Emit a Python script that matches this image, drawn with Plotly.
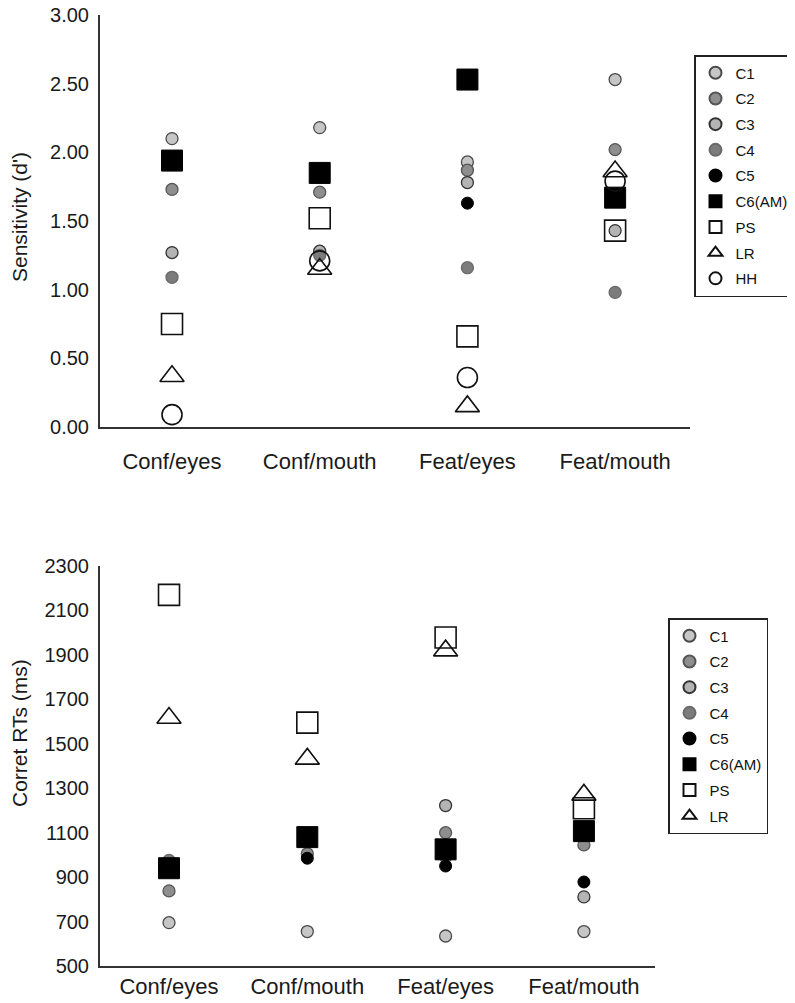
import plotly.graph_objects as go

categories = ["Conf/eyes", "Conf/mouth", "Feat/eyes", "Feat/mouth"]
series_names = ["C1", "C2", "C3", "C4", "C5", "C6(AM)", "PS", "LR", "HH"]

# Sensitivity (d')
d_C1 = [2.10, 2.18, 1.93, 2.53]
d_C2 = [1.73, 1.71, 1.87, 2.02]
d_C3 = [1.27, 1.28, 1.78, 1.43]
d_C4 = [1.09, 1.25, 1.16, 0.98]
d_C5 = [1.92, 1.84, 1.63, 1.66]
d_C6 = [1.94, 1.85, 2.53, 1.67]
d_PS = [0.75, 1.52, 0.66, 1.43]
d_LR = [0.37, 1.15, 0.15, 1.86]
d_HH = [0.09, 1.21, 0.36, 1.79]

# Correct RTs (ms)
rt_C1 = [695, 655, 635, 655]
rt_C2 = [838, 1005, 1100, 1045]
rt_C3 = [925, 1075, 1222, 811]
rt_C4 = [975, 1090, 990, 1100]
rt_C5 = [935, 985, 950, 878]
rt_C6 = [940, 1080, 1025, 1107]
rt_PS = [2170, 1595, 1978, 1210]
rt_LR = [1616, 1432, 1919, 1270]

d_ticks = [0, 0.5, 1.0, 1.5, 2.0, 2.5, 3.0]
rt_ticks = [500, 700, 900, 1100, 1300, 1500, 1700, 1900, 2100, 2300]

FONT = "Liberation Sans, Arial, Helvetica, sans-serif"

styles = {
    "C1": dict(symbol="circle", size=12, color="#c6c6c6", line=dict(color="#4a4a4a", width=1.3)),
    "C2": dict(symbol="circle", size=12, color="#8e8e8e", line=dict(color="#555555", width=1.3)),
    "C3": dict(symbol="circle", size=12, color="#b4b4b4", line=dict(color="#333333", width=1.3)),
    "C4": dict(symbol="circle", size=12, color="#7c7c7c", line=dict(color="#6a6a6a", width=1.3)),
    "C5": dict(symbol="circle", size=12, color="#000000", line=dict(color="#000000", width=1)),
    "C6(AM)": dict(symbol="square", size=21, color="#000000", line=dict(color="#000000", width=1)),
    "PS": dict(symbol="square-open", size=21, color="#111111", line=dict(width=1.6)),
    "LR": dict(symbol="triangle-up-open", size=21, color="#111111", line=dict(width=1.6)),
    "HH": dict(symbol="circle-open", size=20, color="#111111", line=dict(width=1.6)),
}

top_data = [d_C1, d_C2, d_C3, d_C4, d_C5, d_C6, d_PS, d_LR, d_HH]
bot_data = [rt_C1, rt_C2, rt_C3, rt_C4, rt_C5, rt_C6, rt_PS, rt_LR]

xpos = list(range(len(categories)))

fig = go.Figure()
for name, vals in zip(series_names, top_data):
    fig.add_trace(go.Scatter(
        x=xpos, y=vals, mode="markers", name=name,
        marker=styles[name], xaxis="x", yaxis="y",
        legend="legend", legendgroup="top_" + name,
    ))
for name, vals in zip(series_names[:8], bot_data):
    fig.add_trace(go.Scatter(
        x=xpos, y=vals, mode="markers", name=name,
        marker=styles[name], xaxis="x2", yaxis="y2",
        legend="legend2", legendgroup="bot_" + name,
    ))

# The page body adds an 8px offset; positions below are in window pixels.
OFF = 8
W, H = 795 - OFF, 1003 - OFF
ML, MR, MT, MB = 100 - OFF, 0, 15 - OFF, 1003 - 966
PW, PH = W - ML - MR, H - MT - MB

def px_x(p):
    return (p - OFF - ML) / PW

def px_y(p):
    return (H - MB - (p - OFF)) / PH

line_style = dict(
    showline=True, linecolor="#333333", linewidth=2, showgrid=False,
    zeroline=False, ticks="", automargin=False, ticklabeloverflow="allow",
)
ytick_font = dict(family=FONT, size=20, color="#1a1a1a")
xtick_font = dict(family=FONT, size=22, color="#1a1a1a")

fig.update_layout(
    width=W, height=H,
    margin=dict(l=ML, r=MR, t=MT, b=MB, autoexpand=False),
    paper_bgcolor="white", plot_bgcolor="white",
    font=dict(family=FONT, color="#1a1a1a"),
    xaxis=dict(
        domain=[px_x(100), px_x(690)], range=[-0.4875, 3.507], anchor="y",
        tickvals=xpos, ticktext=categories, ticklabelstandoff=14,
        tickfont=xtick_font, **line_style,
    ),
    yaxis=dict(
        domain=[px_y(427), px_y(15)], range=[0, 3], anchor="x",
        tickvals=d_ticks, tickformat=".2f", ticklabelstandoff=5,
        tickfont=ytick_font, **line_style,
    ),
    xaxis2=dict(
        domain=[px_x(100), px_x(655)], range=[-0.499, 3.514], anchor="y2",
        tickvals=xpos, ticktext=categories, ticklabelstandoff=0,
        tickfont=xtick_font, **line_style,
    ),
    yaxis2=dict(
        domain=[px_y(966), px_y(566)], range=[500, 2300], anchor="x2",
        tickvals=rt_ticks, ticklabelstandoff=5,
        tickfont=ytick_font, **line_style,
    ),
    legend=dict(
        x=px_x(794), y=px_y(55), xanchor="right", yanchor="top",
        bordercolor="#222222", borderwidth=1.5, bgcolor="white",
        font=dict(family=FONT, size=15, color="#111111"),
        traceorder="grouped", tracegroupgap=3.2, itemsizing="constant",
    ),
    legend2=dict(
        x=px_x(668), y=px_y(618), xanchor="left", yanchor="top",
        bordercolor="#222222", borderwidth=1.5, bgcolor="white",
        font=dict(family=FONT, size=15, color="#111111"),
        traceorder="grouped", tracegroupgap=3.2, itemsizing="constant",
    ),
    annotations=[
        dict(text="Sensitivity (d')", x=px_x(19), y=px_y(217), xref="paper", yref="paper",
             xanchor="center", yanchor="middle",
             textangle=-90, showarrow=False, font=dict(family=FONT, size=21, color="#1a1a1a")),
        dict(text="Corret RTs (ms)", x=px_x(19), y=px_y(733), xref="paper", yref="paper",
             xanchor="center", yanchor="middle",
             textangle=-90, showarrow=False, font=dict(family=FONT, size=21, color="#1a1a1a")),
    ],
    showlegend=True,
)

fig.write_html("out.html")
